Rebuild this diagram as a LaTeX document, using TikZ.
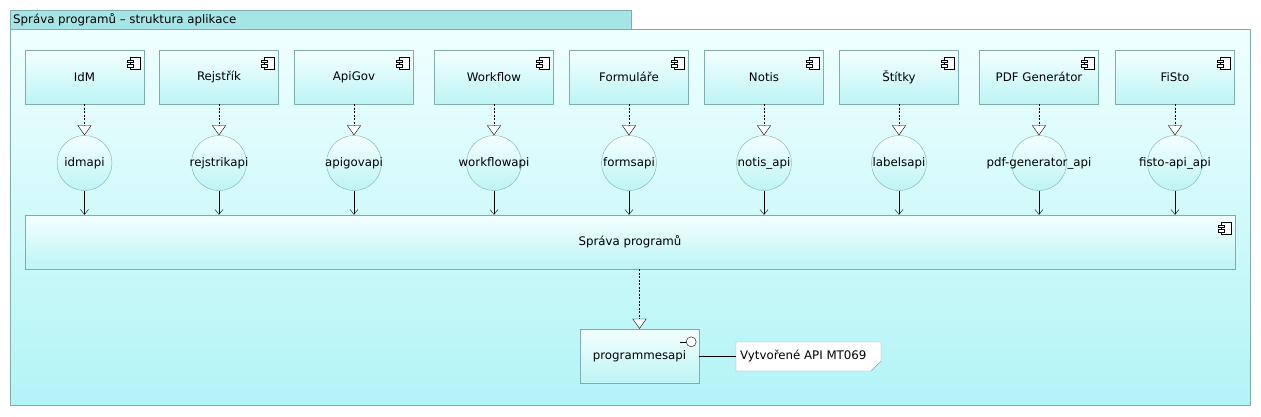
\documentclass[tikz,border=0pt]{standalone}
\usepackage{fontspec}
\setmainfont{DejaVu Sans}
\usetikzlibrary{arrows.meta,shapes.geometric,shadings}
\definecolor{bord}{HTML}{7FACAC}
\definecolor{tabfill}{HTML}{A6E5E5}
\definecolor{frametop}{HTML}{F0FFFF}
\definecolor{framebot}{HTML}{B2F4F6}
\definecolor{comptop}{HTML}{F4FFFF}
\definecolor{compbot}{HTML}{BDF4F5}
\tikzset{
  comp/.style={draw=bord, top color=comptop, bottom color=compbot, minimum width=119pt, minimum height=54pt, inner sep=0pt},
  iface/.style={circle, draw=bord, top color=comptop, bottom color=compbot, minimum size=55pt, inner sep=0pt},
  realize/.style={draw=black, dash pattern=on 2pt off 1.5pt, -{Triangle[length=10pt,width=14pt,fill=white]}},
  uses/.style={draw=black, -{Straight Barb[length=5pt,width=8pt]}},
  icon/.style={draw=black, fill=white, line width=0.5pt},
}
\begin{document}
\begin{tikzpicture}[x=1pt,y=-1pt, every node/.style={font=\fontsize{11.8}{14}\selectfont}]
\useasboundingbox (0,0) rectangle (1261,416);
% frame
\path[draw=bord, top color=frametop, bottom color=framebot] (10,29) rectangle (1250,405);
\path[draw=bord, fill=tabfill] (10,10) rectangle (631,29);
\node[anchor=west, inner sep=0pt] (title) at (13,19.5) {Správa programů – struktura aplikace};
% main component
\node[comp, minimum width=1210pt] (main) at (630,242) {Správa programů};
\draw[icon] (1221,222) rectangle (1231,234);
\draw[icon] (1218,225) rectangle (1224,227.5);
\draw[icon] (1218,229.5) rectangle (1224,232);
% top components
\foreach \cx/\n/\lab/\ifc in {
  84.5/idm/IdM/idmapi,
  219/rej/Rejstřík/rejstrikapi,
  354/apigov/ApiGov/apigovapi,
  494/wf/Workflow/workflowapi,
  629/forms/Formuláře/formsapi,
  764/notis/Notis/notis\_api,
  899/labels/Štítky/labelsapi,
  1039/pdf/PDF Generátor/pdf-generator\_api,
  1175/fisto/FiSto/fisto-api\_api}{
  \node[comp] (\n) at (\cx,77) {\lab};
  \draw[icon] ([xshift=-14pt,yshift=-7pt]\n.north east) rectangle ([xshift=-4pt,yshift=-19pt]\n.north east);
  \draw[icon] ([xshift=-17pt,yshift=-10pt]\n.north east) rectangle ([xshift=-11pt,yshift=-12.5pt]\n.north east);
  \draw[icon] ([xshift=-17pt,yshift=-14.5pt]\n.north east) rectangle ([xshift=-11pt,yshift=-17pt]\n.north east);
  \node[iface] (\n api) at (\cx,163) {};
  \node (\n lab) at (\cx,163) {\ifc};
  \draw[realize] (\n.south) -- (\n api.north);
  \draw[uses] (\n api.south) -- (\n api.south |- main.north);
}
% provided interface
\node[comp] (papi) at (639.5,356) {programmesapi};
\draw[black] ([xshift=-19pt,yshift=-13pt]papi.north east) -- ([xshift=-13pt,yshift=-13pt]papi.north east);
\draw[black, fill=white] ([xshift=-8pt,yshift=-13pt]papi.north east) circle (5pt);
\draw[realize] (papi.north |- main.south) -- (papi.north);
% note
\coordinate (n1) at (736,342);
\coordinate (n2) at (881,342);
\coordinate (n3) at (881,361);
\coordinate (n4) at (871,371);
\coordinate (n5) at (736,371);
\draw[draw=bord, fill=white] (n1) -- (n2) -- (n3) -- (n4) -- (n5) -- cycle;
\node[anchor=west, inner sep=0pt] (note) at (740,356.5) {Vytvořené API MT069};
\draw[black] (papi.east) -- (n1 |- papi.east);
\end{tikzpicture}
\end{document}
